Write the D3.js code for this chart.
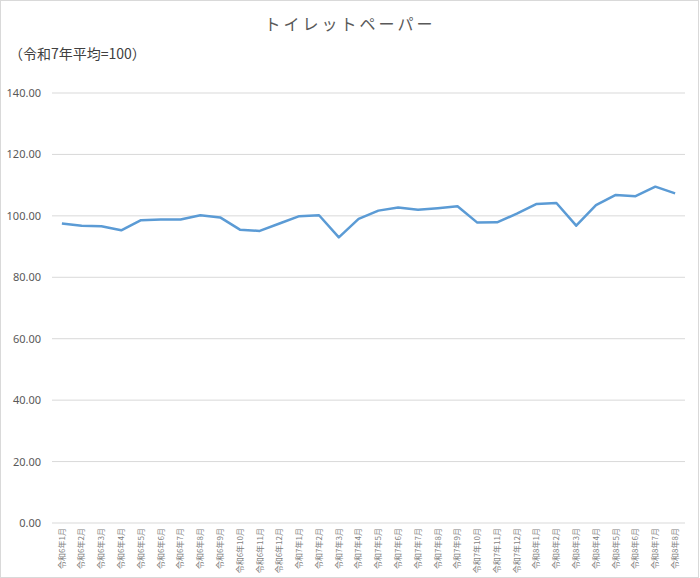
<!DOCTYPE html>
<html>
<head>
<meta charset="utf-8">
<script src="https://cdn.jsdelivr.net/npm/d3@7"></script>
<style>
  body { margin: 0; background: #fff; }
  text { font-family: "Noto Sans CJK JP", "Noto Sans", sans-serif; }
</style>
</head>
<body>
<div id="chart"></div>
<script>
// months: 令和6年1月 .. 令和8年8月
const months = [];
[[6, 12], [7, 12], [8, 8]].forEach(([yr, n]) => {
  for (let m = 1; m <= n; m++) months.push(`令和${yr}年${m}月`);
});

const values = [
  97.5, 96.8, 96.6, 95.3, 98.6, 98.8, 98.8, 100.2, 99.5, 95.5, 95.1, 97.5,
  99.9, 100.2, 93.0, 99.0, 101.7, 102.7, 102.0, 102.5, 103.1, 97.8, 97.9, 100.7,
  103.9, 104.2, 96.8, 103.5, 106.8, 106.4, 109.5, 107.3
];

const yTicks = [0, 20, 40, 60, 80, 100, 120, 140];

const W = 700, H = 578;
const margin = { top: 93, right: 15, bottom: 55, left: 52 };
const width = W - margin.left - margin.right;
const height = H - margin.top - margin.bottom;

const svg = d3.select("#chart")
  .append("svg")
  .attr("width", W)
  .attr("height", H);

// outer border
svg.append("rect")
  .attr("x", 0.5).attr("y", 0.5)
  .attr("width", W - 2).attr("height", H - 1)
  .attr("fill", "#fff")
  .attr("stroke", "#d9d9d9");

// title + subtitle
svg.append("text")
  .attr("x", 350).attr("y", 30)
  .attr("text-anchor", "middle")
  .attr("font-size", 16)
  .attr("letter-spacing", "3px")
  .attr("fill", "#595959")
  .text("トイレットペーパー");

svg.append("text")
  .attr("x", 9).attr("y", 59)
  .attr("font-size", 14)
  .attr("fill", "#404040")
  .text("（令和7年平均=100）");

const g = svg.append("g")
  .attr("transform", `translate(${margin.left},${margin.top})`);

const x = d3.scaleBand()
  .domain(months)
  .range([0, width]);

const y = d3.scaleLinear()
  .domain([0, 140])
  .range([height, 0]);

// gridlines
g.append("g")
  .selectAll("line")
  .data(yTicks)
  .enter()
  .append("line")
  .attr("x1", 0).attr("x2", width)
  .attr("y1", d => y(d)).attr("y2", d => y(d))
  .attr("stroke", "#d9d9d9")
  .attr("stroke-width", 1);

// y axis labels
const yAxis = g.append("g")
  .call(d3.axisLeft(y).tickValues(yTicks).tickFormat(d3.format(".2f")).tickSize(0).tickPadding(11));
yAxis.select(".domain").remove();
yAxis.selectAll("text")
  .attr("font-size", 11)
  .attr("fill", "#595959")
  .style("font-family", '"Noto Sans", sans-serif');

// x axis labels (rotated)
const xAxis = g.append("g")
  .attr("transform", `translate(0,${height})`)
  .call(d3.axisBottom(x).tickSize(0).tickPadding(0));
xAxis.select(".domain").remove();
xAxis.selectAll("text")
  .attr("font-size", 8)
  .attr("fill", "#7f7f7f")
  .attr("text-anchor", "end")
  .attr("dy", "0.35em")
  .attr("transform", "translate(0,5) rotate(-90)")
  .attr("x", 0).attr("y", 0);

// line
const line = d3.line()
  .x((d, i) => x(months[i]) + x.bandwidth() / 2)
  .y(d => y(d));

g.append("path")
  .datum(values)
  .attr("fill", "none")
  .attr("stroke", "#5b9bd5")
  .attr("stroke-width", 2.5)
  .attr("stroke-linejoin", "round")
  .attr("d", line);
</script>
</body>
</html>
